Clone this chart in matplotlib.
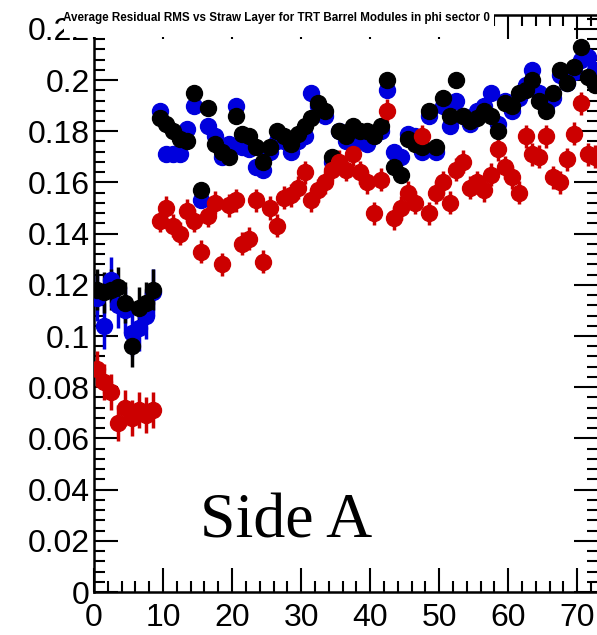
import numpy as np
import matplotlib
matplotlib.use("Agg")
import matplotlib.pyplot as plt
from matplotlib.ticker import MultipleLocator, FuncFormatter
from matplotlib.patches import Rectangle

layers = np.arange(73)

red = [0.087, 0.082, 0.078, 0.066, 0.072, 0.068, 0.071, 0.069, 0.071,
       0.145, 0.150, 0.143, 0.140, 0.149, 0.145, 0.133, 0.147, 0.152, 0.128,
       0.151, 0.153, 0.136, 0.138,
       0.153, 0.129, 0.150, 0.143, 0.154, 0.155, 0.158, 0.164, 0.153, 0.157,
       0.160, 0.165, 0.168, 0.165, 0.171, 0.164, 0.160, 0.148, 0.161,
       0.188, 0.146, 0.150, 0.156, 0.152, 0.178, 0.148, 0.156, 0.160, 0.152,
       0.165, 0.168, 0.158, 0.160, 0.157, 0.163, 0.173, 0.166, 0.162, 0.156,
       0.178, 0.171, 0.170, 0.178, 0.162, 0.160, 0.169, 0.179, 0.191, 0.171,
       0.170]

black = [0.118, 0.117, 0.118, 0.119, 0.113, 0.096, 0.111, 0.113, 0.118,
         0.185, 0.183, 0.180, 0.177, 0.176, 0.195, 0.157, 0.189, 0.175, 0.172,
         0.170, 0.186, 0.179,
         0.178, 0.174, 0.168, 0.174, 0.180, 0.178, 0.175, 0.179, 0.182, 0.185,
         0.191, 0.188, 0.170, 0.180, 0.178, 0.182, 0.180, 0.180, 0.178, 0.182,
         0.200, 0.166, 0.163, 0.177, 0.175, 0.174, 0.188, 0.174, 0.193, 0.186,
         0.200, 0.186, 0.184, 0.185, 0.188, 0.186, 0.180, 0.191, 0.190, 0.195,
         0.196, 0.200, 0.192, 0.188, 0.195, 0.204, 0.199, 0.205, 0.213, 0.201,
         0.198]

blue = [0.115, 0.104, 0.122, 0.112, 0.110, 0.101, 0.103, 0.108, 0.117,
        0.188, 0.171, 0.171, 0.171, 0.181, 0.190, 0.153, 0.182, 0.178, 0.170,
        0.175, 0.190, 0.174,
        0.173, 0.166, 0.165, 0.172, 0.176, 0.176, 0.172, 0.176, 0.178, 0.195,
        0.190, 0.186, 0.168, 0.180, 0.176, 0.180, 0.176, 0.175, 0.178, 0.180,
        0.196, 0.172, 0.170, 0.179, 0.178, 0.172, 0.186, 0.172, 0.190, 0.182,
        0.192, 0.186, 0.183, 0.188, 0.190, 0.195, 0.183, 0.192, 0.188, 0.193,
        0.198, 0.204, 0.195, 0.190, 0.193, 0.202, 0.199, 0.203, 0.208, 0.209,
        0.204]

err_red = [0.007] * 9 + [0.0045] * 64
err_black = [0.008] * 9 + [0.003] * 64
err_blue = [0.009] * 9 + [0.003] * 64

title_text = "Average Residual RMS vs Straw Layer for TRT Barrel Modules in phi sector 0"
side_text = "Side A"

W, H = 597, 635
fig = plt.figure(figsize=(W / 100, H / 100), dpi=100)
ax = fig.add_axes([94 / W, (H - 592) / H, 504 / W, (592 - 15) / H])

xs = layers + 0.5
for vals, errs, col in [(blue, err_blue, "#0000dd"), (black, err_black, "black"), (red, err_red, "#cc0000")]:
    ax.errorbar(xs, vals, yerr=errs, fmt="o", color=col, ms=11.5, elinewidth=2.5,
                capsize=0, mec=col, mfc=col, zorder=3)

ax.set_xlim(0, 73)
ax.set_ylim(0, 0.2254)

ax.xaxis.set_major_locator(MultipleLocator(10))
ax.xaxis.set_minor_locator(MultipleLocator(2))
ax.yaxis.set_major_locator(MultipleLocator(0.02))
ax.yaxis.set_minor_locator(MultipleLocator(0.004))
ax.tick_params(which="both", direction="in", top=True, right=True, width=1.5)
ax.tick_params(which="major", length=17)
ax.tick_params(which="minor", length=8)
ax.tick_params(axis="x", which="major", labelsize=23, pad=8)
ax.tick_params(axis="y", which="major", labelsize=23, pad=3)
for lab in ax.get_xticklabels() + ax.get_yticklabels():
    lab.set_family("Liberation Sans")
ax.xaxis.set_major_formatter(FuncFormatter(lambda v, p: "%g" % round(v, 4)))
ax.yaxis.set_major_formatter(FuncFormatter(lambda v, p: "%g" % round(v, 4)))
for s in ax.spines.values():
    s.set_linewidth(1.8)

fig.text(200 / W, 1 - 537 / H, side_text, family="Liberation Serif", fontsize=46,
         ha="left", va="baseline")

# title pave (white box covering the top frame on the left)
fig.patches.append(Rectangle((64 / W, 1 - 37 / H), (494 - 64) / W, 37 / H,
                             transform=fig.transFigure, facecolor="white",
                             edgecolor="none", zorder=9))
fig.text(276 / W, 1 - 18 / H, title_text, family="Liberation Sans", fontsize=8.4,
         fontweight="bold", ha="center", va="center", zorder=10)

fig.savefig("out.png", dpi=100)
